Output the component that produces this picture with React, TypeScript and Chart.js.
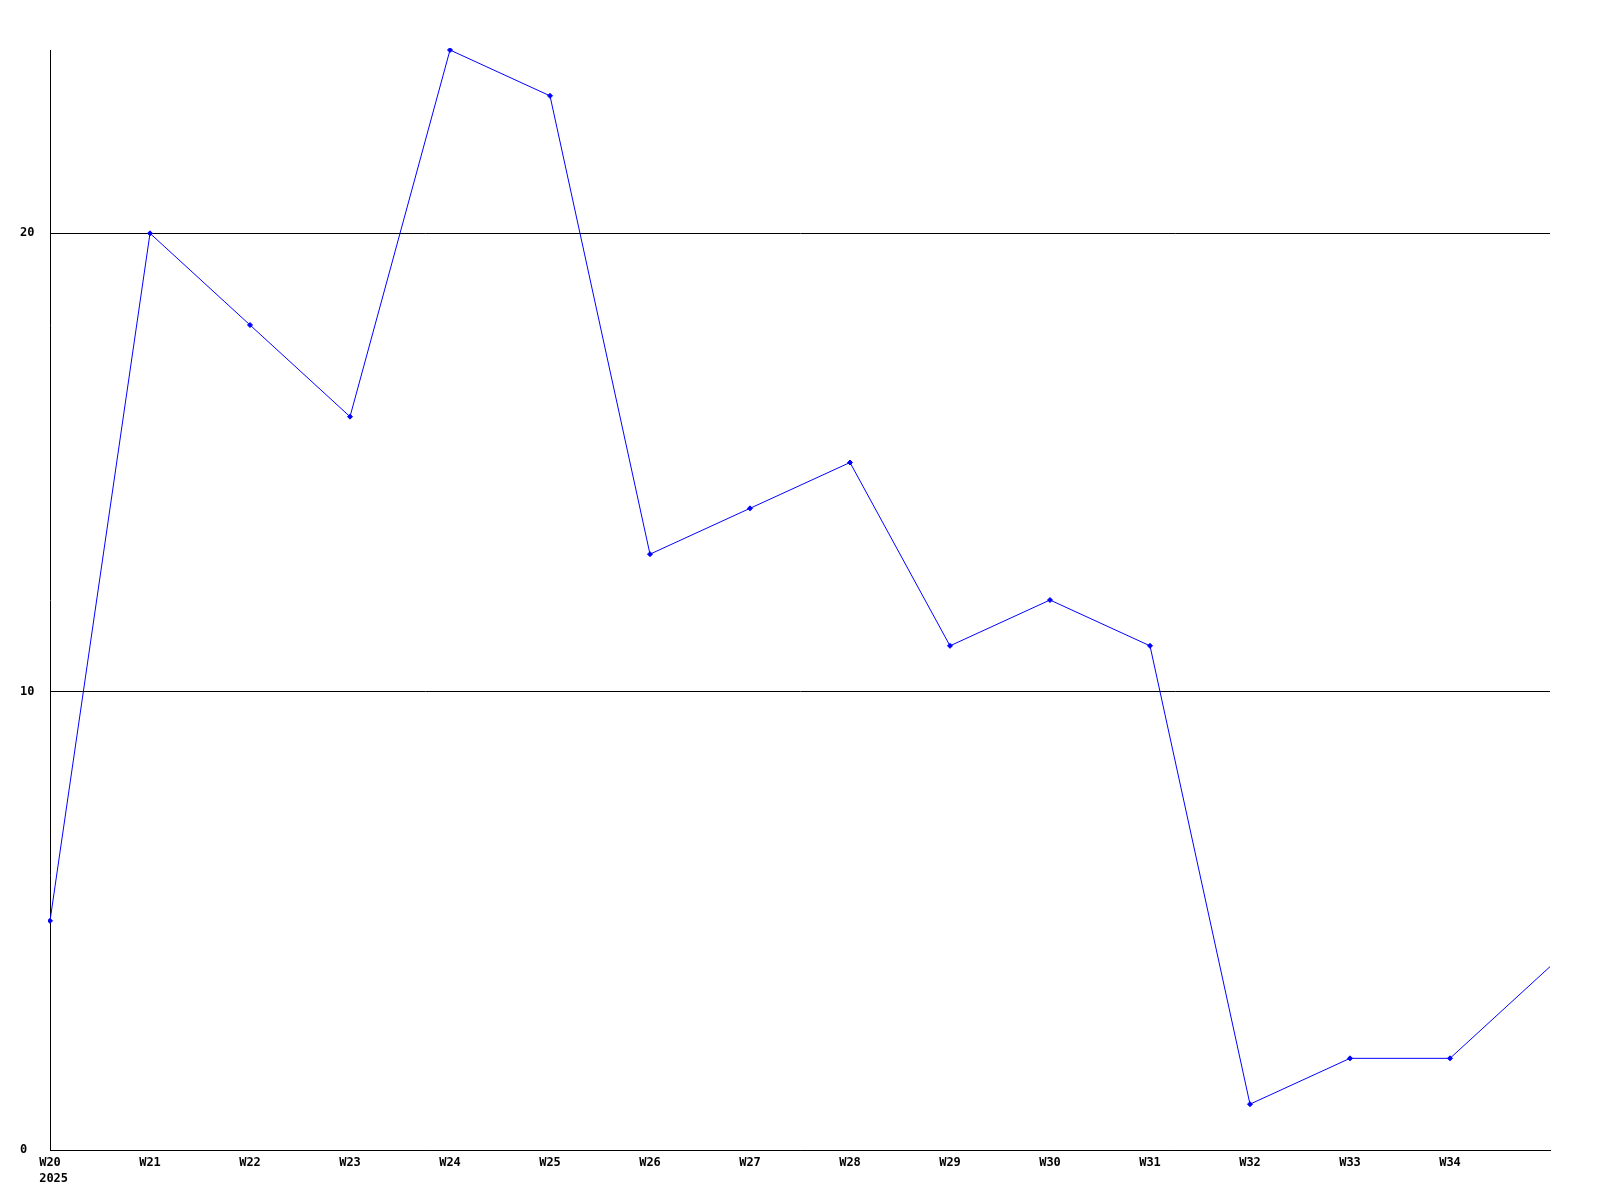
import React, { useEffect, useRef } from "react";
import { Chart, registerables } from "chart.js";

Chart.register(...registerables);

const weeks = ["W20", "W21", "W22", "W23", "W24", "W25", "W26", "W27", "W28", "W29", "W30", "W31", "W32", "W33", "W34", "W35"];
const yearLabel = "2025";
const values = [5, 20, 18, 16, 24, 23, 13, 14, 15, 11, 12, 11, 1, 2, 2, 4];
const yTicks = [0, 10, 20];
const yMin = 0;
const yMax = 24;

export default function App() {
  const ref = useRef<HTMLCanvasElement | null>(null);

  useEffect(() => {
    if (!ref.current) return;
    const font = { family: "'DejaVu Sans Mono', monospace", size: 12, weight: "bold" as const, lineHeight: "16px" };
    const lastIdx = weeks.length - 1;
    const chart = new Chart(ref.current, {
      type: "line",
      data: {
        labels: weeks.map((w, i) => (i === 0 ? [w, " " + yearLabel] : i === lastIdx ? "" : w)),
        datasets: [
          {
            data: values,
            borderColor: "#0000ff",
            backgroundColor: "#0000ff",
            borderWidth: 1,
            pointStyle: "rectRot",
            pointRadius: values.map((_, i) => (i === lastIdx ? 0 : 2.5)),
            pointBorderWidth: 1,
            tension: 0,
            clip: 2,
          },
        ],
      },
      options: {
        animation: false,
        responsive: false,
        layout: { padding: { top: 50, right: 50, left: 20, bottom: 0 } },
        plugins: { legend: { display: false }, tooltip: { enabled: false } },
        scales: {
          x: {
            type: "category",
            offset: false,
            grid: { display: false, drawTicks: false },
            border: { display: true, color: "#000", width: 1 },
            ticks: {
              color: "#000",
              font,
              padding: 5,
              maxRotation: 0,
              autoSkip: false,
            },
            afterFit: (s: any) => {
              s.height = 50;
            },
          },
          y: {
            type: "linear",
            min: yMin,
            max: yMax,
            grid: { color: "#000", lineWidth: 1, drawTicks: false },
            border: { display: true, color: "#000", width: 1 },
            ticks: { color: "#000", font, padding: 15, crossAlign: "far" },
            afterBuildTicks: (s: any) => {
              s.ticks = yTicks.map((v) => ({ value: v }));
            },
            afterFit: (s: any) => {
              s.width = 30;
            },
          },
        },
      },
    });
    return () => chart.destroy();
  }, []);

  return (
    <div style={{ position: "fixed", left: 0, top: 0, width: 1600, height: 1200, background: "#fff" }}>
      <canvas ref={ref} width={1600} height={1200} style={{ display: "block" }} />
    </div>
  );
}
